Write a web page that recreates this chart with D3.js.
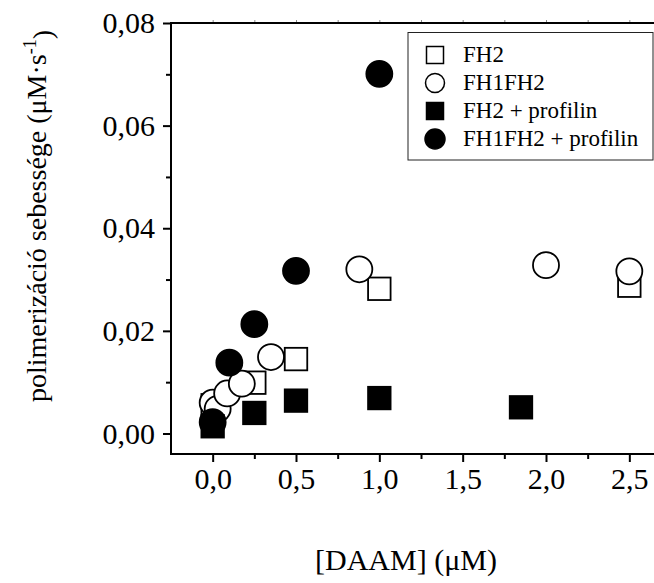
<!DOCTYPE html>
<html>
<head>
<meta charset="utf-8">
<script src="https://cdn.jsdelivr.net/npm/d3@7"></script>
<style>
  html, body { margin: 0; padding: 0; background: #fff; }
  svg { display: block; }
  text { font-family: "Liberation Serif", "Times New Roman", serif; fill: #000; }
</style>
</head>
<body>
<svg id="chart" width="654" height="583"></svg>
<script>
// ---- Data ----
const seriesNames = ["FH2", "FH1FH2", "FH2 + profilin", "FH1FH2 + profilin"];
const fh2 = [[0, 0.0055], [0.25, 0.0099], [0.5, 0.0145], [1.0, 0.0282], [2.5, 0.0288]];
const fh1fh2 = [[0, 0.0060], [0.03, 0.0048], [0.087, 0.0078], [0.175, 0.0097], [0.35, 0.0149], [0.88, 0.0320], [2.0, 0.0328], [2.5, 0.0316]];
const fh2Profilin = [[0, 0.0014], [0.25, 0.0040], [0.5, 0.0064], [1.0, 0.0069], [1.85, 0.0051]];
const fh1fh2Profilin = [[0, 0.0022], [0.1, 0.0138], [0.25, 0.0213], [0.5, 0.0317], [1.0, 0.0701]];
const xMajorTicks = [0, 0.5, 1.0, 1.5, 2.0, 2.5];
const xMinorTicks = [0.25, 0.75, 1.25, 1.75, 2.25, 2.75];
const yMajorTicks = [0, 0.02, 0.04, 0.06, 0.08];
const yMinorTicks = [0.01, 0.03, 0.05, 0.07];
const xTitle = "[DAAM] (μM)";

// ---- Setup ----
const svg = d3.select("#chart");
const x = d3.scaleLinear().domain([-0.25, 2.75]).range([171, 671]);
const y = d3.scaleLinear().domain([-0.004, 0.08]).range([454, 23]);
const fmtX = v => d3.format(".1f")(v).replace(".", ",");
const fmtY = v => d3.format(".2f")(v).replace(".", ",");

const axisW = 2;

// X axis (bottom)
const gx = svg.append("g").attr("transform", `translate(0,${y.range()[0]})`);
gx.call(d3.axisBottom(x).tickValues(xMajorTicks).tickSize(8).tickSizeOuter(0).tickPadding(6).tickFormat(fmtX));
gx.select(".domain").remove();
gx.selectAll(".tick line").attr("stroke", "#000").attr("stroke-width", axisW);
gx.selectAll(".tick text").style("font-family", "'Liberation Serif', serif").style("font-size", "30px").attr("fill", "#000");
const gxm = svg.append("g").attr("transform", `translate(0,${y.range()[0]})`);
gxm.call(d3.axisBottom(x).tickValues(xMinorTicks).tickSize(5).tickSizeOuter(0).tickFormat(""));
gxm.select(".domain").remove();
gxm.selectAll(".tick line").attr("stroke", "#000").attr("stroke-width", axisW);

// Top axis (mirror, tiny ticks)
const gt = svg.append("g").attr("transform", `translate(0,${y.range()[1]})`);
gt.call(d3.axisTop(x).tickValues(xMajorTicks.concat(xMinorTicks)).tickSize(3).tickSizeOuter(0).tickFormat(""));
gt.select(".domain").remove();
gt.selectAll(".tick line").attr("stroke", "#888").attr("stroke-width", 1);

// Y axis (left)
const gy = svg.append("g").attr("transform", `translate(${x.range()[0]},0)`);
gy.call(d3.axisLeft(y).tickValues(yMajorTicks).tickSize(8).tickSizeOuter(0).tickPadding(8).tickFormat(fmtY));
gy.select(".domain").remove();
gy.selectAll(".tick line").attr("stroke", "#000").attr("stroke-width", axisW);
gy.selectAll(".tick text").style("font-family", "'Liberation Serif', serif").style("font-size", "30px").attr("fill", "#000");
const gym = svg.append("g").attr("transform", `translate(${x.range()[0]},0)`);
gym.call(d3.axisLeft(y).tickValues(yMinorTicks).tickSize(5).tickSizeOuter(0).tickFormat(""));
gym.select(".domain").remove();
gym.selectAll(".tick line").attr("stroke", "#000").attr("stroke-width", axisW);

// Frame lines
const [x0, x1] = x.range();
const [yb, yt] = y.range();
svg.append("line").attr("x1", x0).attr("x2", x1).attr("y1", yb).attr("y2", yb).attr("stroke", "#000").attr("stroke-width", axisW);
svg.append("line").attr("x1", x0).attr("x2", x1).attr("y1", yt).attr("y2", yt).attr("stroke", "#000").attr("stroke-width", axisW);
svg.append("line").attr("x1", x0).attr("x2", x0).attr("y1", yt - 1).attr("y2", yb + 1).attr("stroke", "#000").attr("stroke-width", axisW);
svg.append("line").attr("x1", x1).attr("x2", x1).attr("y1", yt - 1).attr("y2", yb + 1).attr("stroke", "#000").attr("stroke-width", axisW);

// ---- Markers ----
const sq = 22.5, rad = 13, sw = 1.8;
function drawSquares(data, filled) {
  svg.append("g").selectAll("rect").data(data).join("rect")
    .attr("x", d => x(d[0]) - sq / 2).attr("y", d => y(d[1]) - sq / 2)
    .attr("width", sq).attr("height", sq)
    .attr("fill", filled ? "#000" : "#fff").attr("stroke", "#000").attr("stroke-width", sw);
}
function drawCircles(data, filled) {
  svg.append("g").selectAll("circle").data(data).join("circle")
    .attr("cx", d => x(d[0])).attr("cy", d => y(d[1])).attr("r", rad)
    .attr("fill", filled ? "#000" : "#fff").attr("stroke", "#000").attr("stroke-width", sw);
}
drawSquares(fh2, false);
drawCircles(fh1fh2, false);
drawSquares(fh2Profilin, true);
drawCircles(fh1fh2Profilin, true);

// ---- Legend ----
const lg = svg.append("g");
lg.append("rect").attr("x", 408).attr("y", 32.5).attr("width", 245).attr("height", 127.5)
  .attr("fill", "#fff").attr("stroke", "#222").attr("stroke-width", 1);
const legendKinds = [["square", false], ["circle", false], ["square", true], ["circle", true]];
seriesNames.forEach((name, i) => {
  const cy = 55 + i * 28;
  const [kind, filled] = legendKinds[i];
  if (kind === "square") {
    lg.append("rect").attr("x", 435 - 8.5).attr("y", cy - 8.5).attr("width", 17).attr("height", 17)
      .attr("fill", filled ? "#000" : "#fff").attr("stroke", "#000").attr("stroke-width", 1.5);
  } else {
    lg.append("circle").attr("cx", 435).attr("cy", cy).attr("r", filled ? 10 : 9.5)
      .attr("fill", filled ? "#000" : "#fff").attr("stroke", "#000").attr("stroke-width", 1.5);
  }
  lg.append("text").attr("x", 463).attr("y", cy + 7).style("font-size", "23px").text(name);
});

// ---- Axis titles ----
svg.append("text").attr("x", 406).attr("y", 570).attr("text-anchor", "middle")
  .style("font-size", "30px").text(xTitle);

const yt_ = svg.append("text").attr("transform", "translate(46,216) rotate(-90)")
  .attr("text-anchor", "middle").style("font-size", "28px");
yt_.append("tspan").text("polimerizáció sebessége (μM·s");
yt_.append("tspan").attr("dy", "-0.55em").style("font-size", "18px").text("-1");
yt_.append("tspan").attr("dy", "0.55em").text(")");
</script>
</body>
</html>
